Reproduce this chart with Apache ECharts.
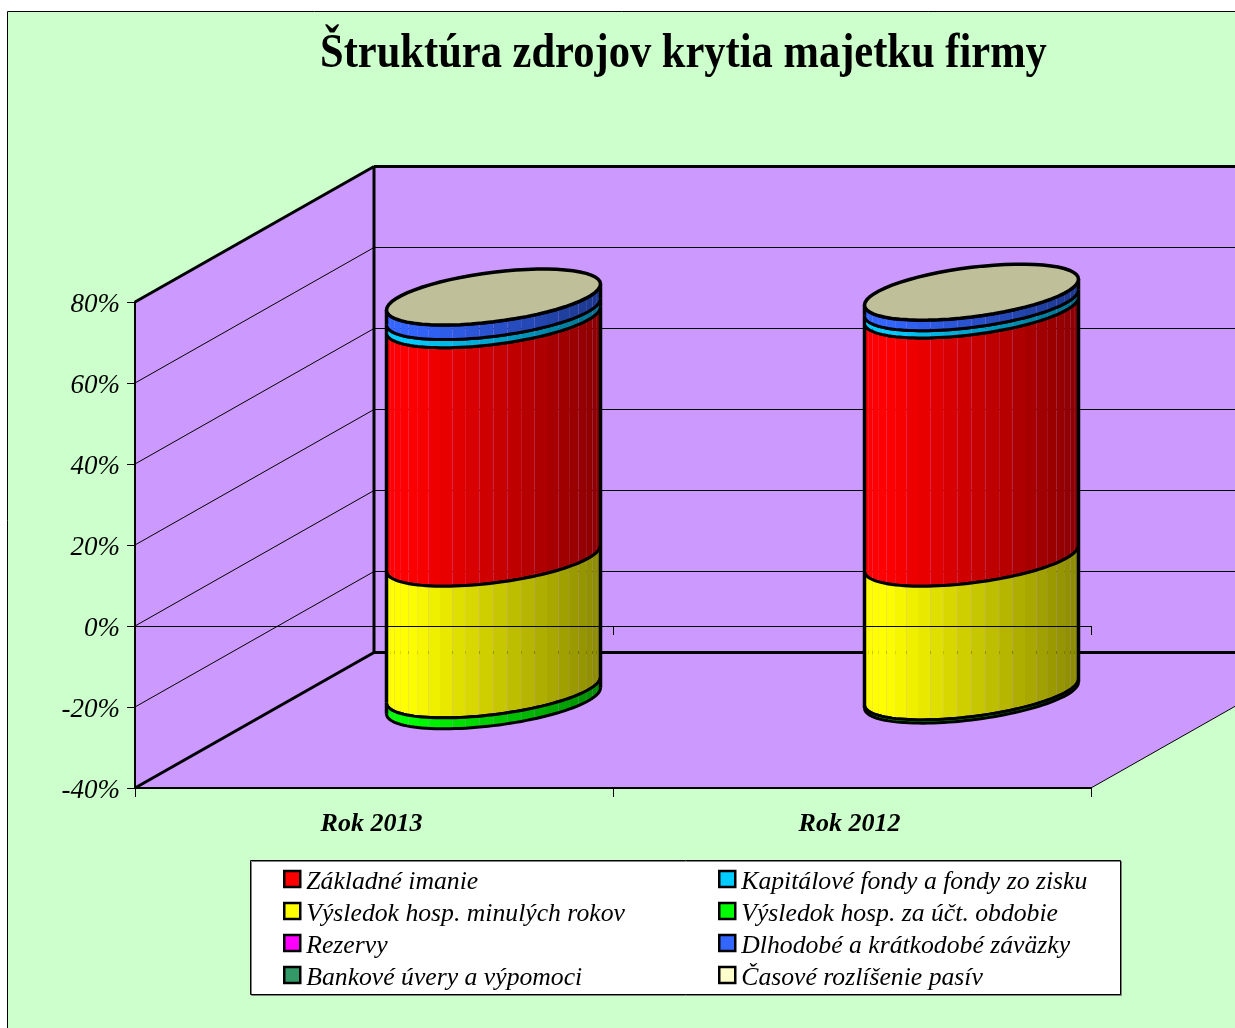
<!DOCTYPE html>
<html>
<head>
<meta charset="utf-8">
<title>Štruktúra zdrojov krytia majetku firmy</title>
<script src="https://cdn.jsdelivr.net/npm/echarts@6/dist/echarts.min.js"></script>
<style>
  html, body { margin: 0; padding: 0; background: #fff; }
  #chart { width: 1235px; height: 1028px; }
</style>
</head>
<body>
<div id="chart"></div>
<script>
const categories = ['Rok 2013', 'Rok 2012']
const yTicks = [-40, -20, 0, 20, 40, 60, 80]

const zakladneImanie = [58.9, 61.3]
const kapitaloveFondy = [2.0, 1.8]
const vysledokMinulych = [-32.5, -33.0]
const vysledokObdobie = [-2.7, -0.8]
const rezervy = [0, 0]
const zavazky = [3.6, 2.6]
const bankoveUvery = [0, 0]
const casoveRozlisenie = [0, 0]

const names = [
  'Základné imanie', 'Kapitálové fondy a fondy zo zisku',
  'Výsledok hosp. minulých rokov', 'Výsledok hosp. za účt. obdobie',
  'Rezervy', 'Dlhodobé a krátkodobé záväzky',
  'Bankové úvery a výpomoci', 'Časové rozlíšenie pasív'
]
const colors = ['#ff0000', '#00ccff', '#ffff00', '#00ff00', '#ff00ff', '#3366ff', '#339966', '#ffffcc']
const values = [
  zakladneImanie, kapitaloveFondy, vysledokMinulych, vysledokObdobie,
  rezervy, zavazky, bankoveUvery, casoveRozlisenie
]

// oblique projection of the chart's floor
const depth = { x: 239, y: -135.5 }
const halfBar = 107
const ellipseV = { x: 49.6, y: -28 }
const ellipseU = Math.sqrt(halfBar * halfBar - ellipseV.x * ellipseV.x)
const thetaR = Math.atan2(ellipseV.x, ellipseU)
const facets = 24
const serif = '"Liberation Serif", "Times New Roman", serif'

function shade(hex, f) {
  const n = parseInt(hex.slice(1), 16)
  const c = [n >> 16, (n >> 8) & 255, n & 255].map(v => Math.round(v * f))
  return `rgb(${c[0]},${c[1]},${c[2]})`
}

// point on the ring round centre (cx, cy), phi 0..PI runs left to right along the front
function ring(cx, cy, phi) {
  const th = thetaR + Math.PI + phi
  return [cx + ellipseU * Math.cos(th) + ellipseV.x * Math.sin(th), cy + ellipseV.y * Math.sin(th)]
}

function arc(cx, cy, from, to) {
  const pts = []
  for (let i = 0; i <= 60; i++) pts.push(ring(cx, cy, from + (to - from) * i / 60))
  return pts
}

function facetShade(phi) {
  const t = (1 - Math.cos(phi)) / 2
  return t < 0.1 ? 1 : 1 - (t - 0.1) / 0.9 * 0.46
}

function line(x1, y1, x2, y2, w) {
  return { type: 'line', shape: { x1, y1, x2, y2 }, style: { stroke: '#000', lineWidth: w } }
}

function renderWalls(params, api) {
  const g = params.coordSys
  const l = g.x, r = g.x + g.width, t = g.y, b = g.y + g.height
  const dx = depth.x, dy = depth.y
  const wall = { fill: '#cc99ff' }
  const children = [
    { type: 'polygon', shape: { points: [[l + dx, t + dy], [r + dx, t + dy], [r + dx, b + dy], [l + dx, b + dy]] }, style: wall },
    { type: 'polygon', shape: { points: [[l, b], [r, b], [r + dx, b + dy], [l + dx, b + dy]] }, style: wall },
    { type: 'polygon', shape: { points: [[l, t], [l + dx, t + dy], [l + dx, b + dy], [l, b]] }, style: wall }
  ]
  yTicks.forEach(v => {
    const y = api.coord([0, v])[1]
    if (v > yTicks[0] && v < yTicks[yTicks.length - 1]) {
      children.push(line(l, y, l + dx, y + dy, 1))
      children.push(line(l + dx, y + dy, r + dx, y + dy, 1))
    }
  })
  children.push(line(l, t, l + dx, t + dy, 3))
  children.push(line(l + dx, t + dy, r + dx, t + dy, 3))
  children.push(line(l + dx, t + dy, l + dx, b + dy, 3))
  children.push(line(l + dx, b + dy, r + dx, b + dy, 3))
  children.push(line(l, b, l + dx, b + dy, 3))
  children.push(line(r, b, r + dx, b + dy, 1))
  return { type: 'group', children }
}

function renderSegment(color, isLast) {
  return function (params, api) {
    const lo = api.coord([api.value(0), api.value(1)])
    const hi = api.coord([api.value(0), api.value(2)])
    const cx = lo[0] + depth.x / 2
    const y0 = lo[1] + depth.y / 2
    const y1 = hi[1] + depth.y / 2
    const children = []
    if (Math.abs(y0 - y1) > 0.01) {
      // facets have no stroke so the joins stay as thin seams like the original
      for (let k = 0; k < facets; k++) {
        const a = Math.PI * k / facets
        const c = Math.PI * (k + 1) / facets
        children.push({
          type: 'polygon',
          shape: { points: [ring(cx, y0, a), ring(cx, y0, c), ring(cx, y1, c), ring(cx, y1, a)] },
          style: { fill: shade(color, facetShade((a + c) / 2)) }
        })
      }
      const left0 = ring(cx, y0, 0), left1 = ring(cx, y1, 0)
      const right0 = ring(cx, y0, Math.PI), right1 = ring(cx, y1, Math.PI)
      children.push(line(left0[0], left0[1], left1[0], left1[1], 3.5))
      children.push(line(right0[0], right0[1], right1[0], right1[1], 3.5))
      children.push({ type: 'polyline', shape: { points: arc(cx, y0, 0, Math.PI) }, style: { stroke: '#000', lineWidth: 3, fill: null } })
      children.push({ type: 'polyline', shape: { points: arc(cx, y1, 0, Math.PI) }, style: { stroke: '#000', lineWidth: 3, fill: null } })
    }
    if (isLast) {
      children.push({
        type: 'polygon',
        shape: { points: arc(cx, y1, 0, Math.PI * 2) },
        style: { fill: shade(color, 0.75), stroke: '#000', lineWidth: 3.5 }
      })
    }
    return { type: 'group', children }
  }
}

// manual stacking: positives go up from 0, negatives go down from 0
const posTop = categories.map(() => 0)
const negTop = categories.map(() => 0)
const stackSeries = names.map((name, s) => ({
  name,
  type: 'custom',
  z: 3,
  silent: true,
  itemStyle: { color: colors[s] },
  renderItem: renderSegment(colors[s], s === names.length - 1),
  encode: { x: 0, y: [1, 2] },
  data: values[s].map((v, i) => {
    const from = v < 0 ? negTop[i] : posTop[i]
    const to = from + v
    if (v < 0) negTop[i] = to
    else posTop[i] = to
    return [i, from, to]
  })
}))

const legendBase = {
  orient: 'vertical',
  icon: 'rect',
  itemWidth: 16,
  itemHeight: 16,
  itemGap: 0,
  padding: 0,
  selectedMode: false,
  itemStyle: { borderColor: '#000', borderWidth: 2.5 },
  formatter: name => `{t|${name}}`,
  textStyle: {
    rich: {
      t: { fontFamily: serif, fontStyle: 'italic', fontSize: 25.7, color: '#000', lineHeight: 26, padding: [6, 0, 0, 1] }
    }
  }
}

const chart = echarts.init(document.getElementById('chart'))
chart.setOption({
  animation: false,
  backgroundColor: '#fff',
  graphic: [
    { type: 'rect', z: -10, shape: { x: 7.5, y: 11.5, width: 1400, height: 1200 }, style: { fill: '#ccffcc', stroke: '#000', lineWidth: 1 } },
    { type: 'rect', z: 3, shape: { x: 250.5, y: 860.5, width: 870, height: 134 }, style: { fill: '#fff', stroke: '#000', lineWidth: 1, shadowColor: '#808080', shadowOffsetX: 1, shadowOffsetY: 1 } },
    {
      // the original title is a slightly condensed face
      type: 'text',
      z: 5,
      x: 320,
      y: 31,
      scaleX: 0.886,
      style: { text: 'Štruktúra zdrojov krytia majetku firmy', fill: '#000', font: 'bold 48px "Liberation Serif", "Times New Roman", serif' }
    }
  ],
  legend: [
    Object.assign({}, legendBase, { left: 283, top: 863, data: [names[0], names[2], names[4], names[6]] }),
    Object.assign({}, legendBase, { left: 718, top: 863, data: [names[1], names[3], names[5], names[7]] })
  ],
  grid: { left: 135, top: 302, width: 956, height: 486, containLabel: false },
  xAxis: [
    {
      type: 'category',
      data: categories,
      z: 10,
      position: 'bottom',
      axisLine: { onZero: false, lineStyle: { color: '#000', width: 2 } },
      axisTick: { show: true, alignWithLabel: false, length: 9, lineStyle: { color: '#000', width: 1 } },
      axisLabel: { margin: 23, padding: [0, 5, 0, 0], interval: 0, fontFamily: serif, fontStyle: 'italic', fontWeight: 'bold', fontSize: 26, color: '#000' },
      splitLine: { show: false }
    },
    {
      // second copy of the axis drawn at the 0% level, in front of the cylinders
      type: 'category',
      data: categories,
      z: 10,
      position: 'bottom',
      axisLine: { onZero: true, lineStyle: { color: '#000', width: 1 } },
      axisTick: { show: true, length: 9, lineStyle: { color: '#000', width: 1 } },
      axisLabel: { show: false },
      splitLine: { show: false }
    }
  ],
  yAxis: {
    type: 'value',
    min: -40,
    max: 80,
    interval: 20,
    z: 10,
    axisLine: { show: true, lineStyle: { color: '#000', width: 2 } },
    axisTick: { show: true, length: 8, lineStyle: { color: '#000', width: 1 } },
    axisLabel: { margin: 15, verticalAlign: 'top', lineHeight: 6, formatter: '{value}%', fontFamily: serif, fontStyle: 'italic', fontSize: 27, color: '#000' },
    splitLine: { show: false }
  },
  series: [
    {
      type: 'custom',
      z: 1,
      silent: true,
      renderItem: renderWalls,
      data: [[0, 0]]
    }
  ].concat(stackSeries)
})
</script>
</body>
</html>
